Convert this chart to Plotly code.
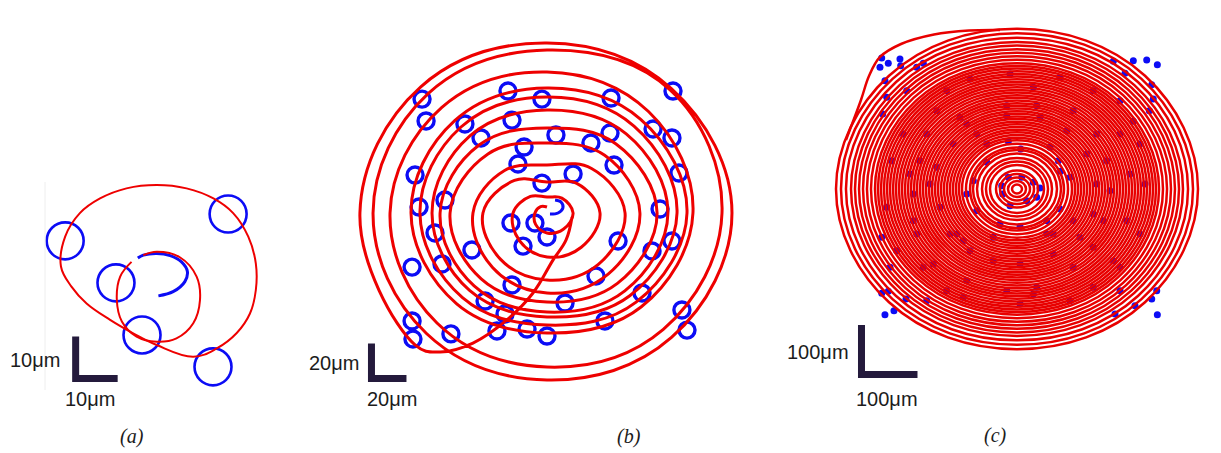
import numpy as np
import plotly.graph_objects as go

W, H = 1221, 453
RED = "rgb(238,0,0)"
RED_C = "rgb(232,0,0)"
BLUE = "rgb(12,12,245)"
BAR = "#241a3c"
TXT = "#1c1c1c"

# ---------------- panel (a) : trajectory (um) ----------------
a_inner_x = [-1.6, 1.6, 7.1, 11.1, 11.9, 10.3, 6.3, 1.6, -3.2, -6.7, -7.9, -7.1, -4.4]
a_inner_y = [8.3, 9.1, 7.8, 3.2, -2.4, -7.9, -11.5, -12.3, -11.1, -7.5, -2.4, 3.2, 6.7]
a_outer_x = [1.6, 10.3, 15.9, 20.6, 23.8, 25.2, 25.2, 23.4, 19.8, 15.1, 8.7, 1.6, -5.6,
             -11.9, -16.7, -20.2, -21.2, -18.7, -15.1, -9.5, -4.0, 1.6]
a_outer_y = [-13.1, -15.9, -13.9, -10.3, -5.6, 0.0, 6.3, 12.7, 18.3, 21.8, 24.2, 25.0, 24.2,
             21.8, 18.3, 12.7, 5.6, 0.8, -3.2, -7.1, -10.3, -13.1]
a_hook_x = [2.0, 5.5, 8.3, 8.9, 7.5, 4.8, 1.6, -1.6, -2.9]
a_hook_y = [-1.4, -0.4, 2.0, 4.4, 6.7, 8.2, 8.7, 8.3, 7.6]
a_circ_x = [-20.2, 18.6, -8.1, -1.9, 15.0]
a_circ_y = [11.7, 18.1, 1.7, -10.7, -18.3]

# ---------------- panel (b) : spiral crossing radii per direction (um) ----------------
b_start_n = 3.4
b_NW = [5.2, 13.4, 26.3, 34.3, 47.7, 54.9, 62.3, 69.5, 74.6, 85.2, 96.3, 102.0]
b_W = [6.9, 19.4, 36.6, 42.3, 55.4, 61.1, 65.7, 72.6, 77.7, 89.7, 99.4, 106.9]
b_SW = [9.2, 22.3, 37.5, 44.0, 53.2, 58.9, 62.6, 68.3, 73.2, 88.9, 97.4]
b_S = [11.4, 25.1, 38.3, 45.7, 50.9, 56.6, 59.4, 64.0, 68.6, 88.0, 95.4]
b_SE = [13.2, 27.7, 41.5, 49.4, 56.9, 62.9, 66.9, 72.0, 76.0, 94.0, 100.6]
b_E = [14.9, 30.3, 44.6, 53.1, 62.9, 69.1, 74.3, 80.0, 83.4, 100.0, 105.7]
b_NE = [12.0, 24.0, 36.0, 46.6, 55.8, 64.0, 70.3, 75.7, 82.0, 99.5, 100.5]
b_N = [9.1, 17.7, 27.4, 40.0, 48.6, 58.9, 66.3, 71.4, 80.6, 93.1, 97.1]
b_ret_x = [-75.4, -61.1, -42.3, -22.9, -8.0, 3.4, 10.9, 14.3]
b_ret_y = [-75.4, -79.4, -74.3, -61.1, -45.7, -26.9, -15.4, -2.3]
b_hook_x = [1.7, 6.3, 9.1, 8.0, 4.6]
b_hook_y = [-0.6, 0.0, 2.9, 6.3, 7.4]
b_circ_x = [-71.4, -22.3, -2.9, 36.6, 72.0, -69.1, -46.9, -20.0, -37.7, 5.1, 25.1, 36.0, 60.6,
            71.4, -13.1, -16.6, 38.3, 14.9, -2.9, 75.4, -75.4, -73.1, -58.3, 64.6, -20.6, -6.9,
            0.0, -13.7, -64.0, -42.9, 40.6, 60.0, 71.4, -77.1, -60.0, -20.0, 28.0, 54.3, -35.4,
            10.3, -24.0, 77.1, -77.1, -76.6, -54.9, -28.6, -11.4, 0.0, 33.1, 80.0]
b_circ_y = [65.1, 69.7, 65.1, 65.7, 69.7, 52.6, 50.9, 53.1, 42.9, 44.6, 40.0, 45.7, 48.0,
            42.9, 37.7, 28.0, 27.4, 22.3, 17.1, 22.9, 21.7, 3.4, 7.4, 2.3, -5.7, -5.7,
            -13.7, -18.9, -11.4, -21.1, -16.0, -21.7, -16.0, -30.9, -29.1, -41.1, -36.0, -45.7, -50.3,
            -51.4, -57.7, -55.4, -61.7, -72.0, -69.1, -67.4, -66.3, -70.3, -61.7, -66.9]

# ---------------- panel (c) : ring radii (um), outer excursion and dot positions ----------------
c_ring_r = [8.9, 16.1, 23.2, 30.4, 37.5, 48.2, 55.4, 62.5, 71.4, 78.6, 83.9, 91.1, 98.2, 103.6,
            108.9, 114.3, 119.6, 125.0, 130.4, 135.7, 141.1, 146.4, 151.8, 157.1, 162.5, 167.9,
            173.2, 178.6, 183.9, 189.3, 194.6, 200.0, 205.4, 210.7, 216.1, 221.4, 226.8, 232.1,
            237.5, 242.9, 248.2, 253.6, 260.7, 267.9, 275.0, 282.1, 289.3, 296.4, 305.4, 314.3, 323.2]
c_excur_x = [-305.4, -278.6, -264.3, -244.6, -207.1, -148.2, -85.7, -30.4]
c_excur_y = [98.9, 179.6, 228.0, 266.4, 292.6, 311.8, 319.8, 320.8]
c_dot_x = [-241.6, -244.7, -229.9, -209.0, -207.7, -179.1, -167.3, -235.8, -232.7, -239.9,
           172.0, 207.7, 231.6, 250.6, 192.9, 240.6, 243.4, 236.3, 207.7,
           -241.6, -229.9, -219.7, -235.8, -198.2, -161.3, -226.8, -241.6,
           175.0, 250.6, 240.6, 249.5, 210.7, 184.0,
           -27.3, -15.5, 8.4, 29.1, 41.1, 35.2, 17.3, -12.5, -25.5,
           -54.1, -15.5, 6.6, 73.8, 94.7, 78.0, -78.0, -89.8, -72.0, -30.4, 5.4, 53.0, 76.8,
           -107.7, -95.9, 64.8, 100.6,
           -143.4, -101.8, -18.4, 35.2, 100.6, 142.3, 160.2, 166.1, 154.1, 136.3, 100.6, 35.2,
           -18.4, -89.8, -149.5, -179.1, -185.2, -173.2, -161.3,
           -197.0, -83.9, -12.5, 76.8, 184.0, 219.7, 228.6, 219.7, 184.0, 94.7, 5.4, -95.9,
           -214.9, -232.7, -223.8,
           -89.8, -72.0, -113.8, -143.4, -155.4, -137.5, -119.7, -83.9, -42.3, 5.4, 64.8, 112.5,
           136.3, 142.3, 124.5, 88.8, 41.1, -18.4, -203.1, -191.1, -185.2, -167.3, 184.0, 201.8,
           195.9, 172.0, 29.1, -125.6, 136.3, 29.1, -125.6, 136.3, -54.1, 58.9, -42.3, 53.0]
c_dot_y = [264.4, 245.6, 253.7, 262.3, 248.8, 245.6, 253.7, 218.5, 185.0, 151.4,
           257.7, 258.9, 260.3, 250.8, 233.5, 210.5, 181.6, 158.0, 136.6,
           -210.5, -206.4, -245.6, -253.7, -222.0, -225.4, -158.0, -97.5,
           -252.3, -253.7, -222.0, -205.2, -235.5, -205.2,
           6.7, 23.6, 23.6, 13.5, 2.0, -16.7, -23.6, -33.7, -10.1,
           53.9, 96.3, 80.7, 57.1, 23.6, 35.7, 16.7, -10.1, -43.8, -70.6, -76.1, -64.0, -40.4,
           -90.8, -104.3, -90.8, -64.0,
           158.0, 144.7, 168.1, 168.1, 158.0, 111.0, 57.1, -3.4, -64.0, -117.6, -158.0, -198.4,
           -205.2, -185.1, -151.4, -90.8, -10.1, 57.1, 111.0,
           198.4, 222.0, 232.1, 225.4, 178.2, 90.8, 10.1, -90.8, -158.0, -225.4, -232.1, -218.5,
           -124.5, -36.9, 57.1,
           131.2, 111.0, 90.8, 43.8, 10.1, -36.9, -90.8, -124.5, -144.7, -151.4, -131.2, -97.5,
           -50.5, 10.1, 70.6, 117.6, 144.7, 147.9, 111.0, 30.3, -64.0, -158.0, 111.0, 30.3,
           -64.0, -144.7, 205.2, 198.4, 198.4, -211.9, -205.2, -198.4, 90.8, 84.1, -97.5, -90.8]

scale_len = [10, 20, 100]
scale_txt = ["10μm", "20μm", "100μm"]
panel_txt = ["(a)", "(b)", "(c)"]

# ---------------- layout geometry (pixels of the page) ----------------
panels = [
    dict(cx=150, cy=290, sx=4.2, sy=4.2, box=(0, 300, 140, 440), corner=(-17.7, -21.1),
         lbl_left=(35, 360), lbl_bot=(90, 399), lbl_panel=(132, 436)),
    dict(cx=547, cy=213, sx=1.75, sy=1.75, box=(310, 780, 10, 440), corner=(-100.3, -94.6),
         lbl_left=(334, 363), lbl_bot=(392, 399), lbl_panel=(629, 436)),
    dict(cx=1017, cy=189, sx=0.56, sy=0.4956, box=(790, 1221, 5, 440), corner=(-277.7, -374.3),
         lbl_left=(818, 352), lbl_bot=(887, 399), lbl_panel=(995, 435)),
]

fig = go.Figure()


def ax(i):
    return ("x", "y") if i == 0 else (f"x{i+1}", f"y{i+1}")


# ---- (a)
xa, ya = ax(0)
fig.add_trace(go.Scatter(x=a_hook_x, y=a_hook_y, xaxis=xa, yaxis=ya, mode="lines",
                         line=dict(color=BLUE, width=3, shape="spline"), hoverinfo="skip"))
fig.add_trace(go.Scatter(x=a_circ_x, y=a_circ_y, xaxis=xa, yaxis=ya, mode="markers",
                         marker=dict(symbol="circle-open", size=37, color=BLUE,
                                     line=dict(width=2.6, color=BLUE)), hoverinfo="skip"))
fig.add_trace(go.Scatter(x=a_inner_x + [None] + a_outer_x, y=a_inner_y + [None] + a_outer_y,
                         xaxis=xa, yaxis=ya, mode="lines", connectgaps=False,
                         line=dict(color=RED, width=2, shape="spline", smoothing=1.1),
                         hoverinfo="skip"))

# ---- (b) : path through the crossings, in reading order (NW, W, SW, S, SE, E, NE, N per turn)
xb, yb = ax(1)
d = np.cos(np.pi / 4)
bx, by = [0.0], [b_start_n]
for k in range(len(b_S)):
    bx += [-b_NW[k] * d, -b_W[k], -b_SW[k] * d, 0.0, b_SE[k] * d, b_E[k], b_NE[k] * d, 0.0]
    by += [b_NW[k] * d, 0.0, -b_SW[k] * d, -b_S[k], -b_SE[k] * d, 0.0, b_NE[k] * d, b_N[k]]
bx += [-b_NW[-1] * d, -b_W[-1]] + b_ret_x
by += [b_NW[-1] * d, 0.0] + b_ret_y
fig.add_trace(go.Scatter(x=b_hook_x, y=b_hook_y, xaxis=xb, yaxis=yb, mode="lines",
                         line=dict(color=BLUE, width=3, shape="spline"), hoverinfo="skip"))
fig.add_trace(go.Scatter(x=b_circ_x, y=b_circ_y, xaxis=xb, yaxis=yb, mode="markers",
                         marker=dict(symbol="circle-open", size=16, color=BLUE,
                                     line=dict(width=3.4, color=BLUE)), hoverinfo="skip"))
fig.add_trace(go.Scatter(x=bx, y=by, xaxis=xb, yaxis=yb, mode="lines",
                         line=dict(color=RED, width=3, shape="spline", smoothing=1.12),
                         hoverinfo="skip"))

# ---- (c)
xc, yc = ax(2)
ang = np.deg2rad(np.arange(0, 360, 45))
cx_pts, cy_pts = [], []
for r in c_ring_r:
    cx_pts += list(r * np.cos(ang)) + [r, None]
    cy_pts += list(r * np.sin(ang)) + [0.0, None]
fig.add_trace(go.Scatter(x=c_dot_x, y=c_dot_y, xaxis=xc, yaxis=yc, mode="markers",
                         marker=dict(symbol="circle", size=7, color=BLUE), hoverinfo="skip"))
fig.add_trace(go.Scatter(x=cx_pts, y=cy_pts, xaxis=xc, yaxis=yc, mode="lines", connectgaps=False,
                         line=dict(color=RED_C, width=2.5, shape="spline", smoothing=1.12),
                         hoverinfo="skip"))
fig.add_trace(go.Scatter(x=c_excur_x, y=c_excur_y, xaxis=xc, yaxis=yc, mode="lines",
                         line=dict(color=RED_C, width=2.5, shape="spline", smoothing=1.0),
                         hoverinfo="skip"))

# ---- axes, scale bars + labels
annotations = []
layout_axes = {}
for i, p in enumerate(panels):
    x0, x1, y0, y1 = p["box"]
    xn = "xaxis" if i == 0 else f"xaxis{i+1}"
    yn = "yaxis" if i == 0 else f"yaxis{i+1}"
    layout_axes[xn] = dict(domain=[x0 / W, x1 / W],
                           range=[(x0 - p["cx"]) / p["sx"], (x1 - p["cx"]) / p["sx"]],
                           visible=False, fixedrange=True)
    layout_axes[yn] = dict(domain=[1 - y1 / H, 1 - y0 / H],
                           range=[(p["cy"] - y1) / p["sy"], (p["cy"] - y0) / p["sy"]],
                           visible=False, fixedrange=True)
    L = scale_len[i]
    c0, c1 = p["corner"]
    xs, ys = ax(i)
    fig.add_trace(go.Scatter(x=[c0, c0, c0 + L], y=[c1 + L, c1, c1], xaxis=xs, yaxis=ys,
                             mode="lines", line=dict(color=BAR, width=7), hoverinfo="skip"))
    sans = dict(family="Liberation Sans, Arial", size=20, color=TXT)
    serif = dict(family="Liberation Serif, Times New Roman", size=20, color=TXT)
    for (px_, py_), txt, fnt in [(p["lbl_left"], scale_txt[i], sans),
                                 (p["lbl_bot"], scale_txt[i], sans),
                                 (p["lbl_panel"], "<i>" + panel_txt[i] + "</i>", serif)]:
        annotations.append(dict(x=px_ / W, y=1 - py_ / H, xref="paper", yref="paper", text=txt,
                                showarrow=False, xanchor="center", yanchor="middle", font=fnt))

fig.update_layout(
    width=W, height=H, margin=dict(l=0, r=0, t=0, b=0),
    paper_bgcolor="white", plot_bgcolor="white", showlegend=False,
    annotations=annotations,
    shapes=[dict(type="line", xref="paper", yref="paper", x0=45 / W, x1=45 / W,
                 y0=1 - 390 / H, y1=1 - 182 / H, line=dict(color="#eeeeee", width=1))],
    **layout_axes,
)
fig.write_html("out.html")
